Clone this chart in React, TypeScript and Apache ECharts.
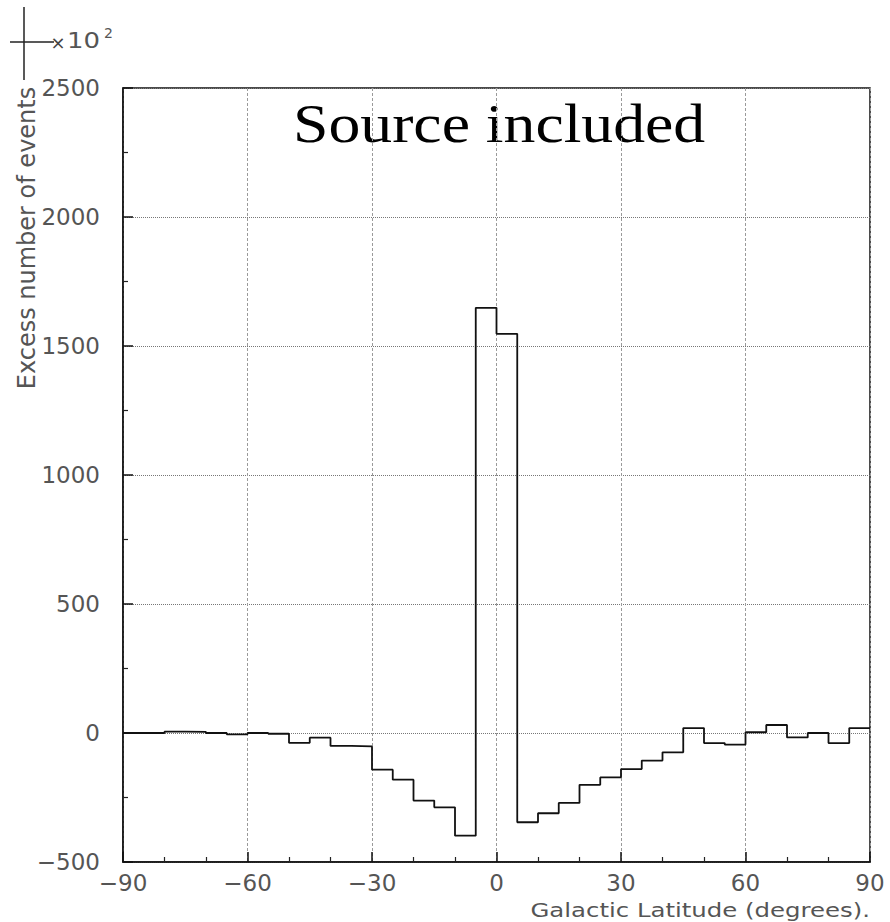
import React, { useEffect, useRef } from "react";
import * as echarts from "echarts";

// Histogram bins (left edges, degrees) and excess counts (x10^2)
const binLeft = [
  -90, -85, -80, -75, -70, -65, -60, -55, -50, -45, -40, -35,
  -30, -25, -20, -15, -10, -5, 0, 5, 10, 15, 20, 25,
  30, 35, 40, 45, 50, 55, 60, 65, 70, 75, 80, 85,
];
const binRightEnd = 90;
const excess = [
  0, 0, 5, 4, 0, -5, 0, -3, -38, -18, -50, -52,
  -142, -181, -262, -288, -398, 1648, 1547, -346, -311, -271, -201, -172,
  -140, -107, -75, 19, -39, -45, 3, 31, -17, 0, -39, 19,
];
const xTicks = [-90, -60, -30, 0, 30, 60, 90];
const yTicks = [-500, 0, 500, 1000, 1500, 2000, 2500];

const titleText = "Source included";
const xTitle = "Galactic Latitude (degrees).";
const yTitle = "Excess number of events";

const fmt = (v: number) => (v < 0 ? "\u2212" + Math.abs(v) : String(v));

export default function App() {
  const ref = useRef<HTMLDivElement>(null);
  useEffect(() => {
    if (!ref.current) return;
    const chart = echarts.init(ref.current, undefined, { renderer: "svg" });
    const stepData: [number, number][] = binLeft.map((x, i) => [x, excess[i]]);
    stepData.push([binRightEnd, excess[excess.length - 1]]);

    const labelStyle = {
      color: "#555",
      fontFamily: "DejaVu Sans",
      fontSize: 23,
    };

    chart.setOption({
      animation: false,
      backgroundColor: "#fff",
      grid: {
        left: 123,
        top: 88,
        width: 747,
        height: 774,
        show: true,
        borderColor: "#111",
        borderWidth: 1.5,
        backgroundColor: "transparent",
      },
      xAxis: {
        type: "value",
        min: xTicks[0],
        max: xTicks[xTicks.length - 1],
        interval: 30,
        axisLine: { show: true, onZero: false, lineStyle: { color: "#111", width: 1.5 } },
        axisTick: { show: true, inside: true, length: 10, lineStyle: { color: "#111", width: 1.5 } },
        minorTick: { show: true, splitNumber: 3, length: 5, lineStyle: { color: "#222", width: 1.2 } },
        axisLabel: { ...labelStyle, margin: 9, formatter: (v: number) => fmt(v) },
        splitLine: { show: true, lineStyle: { color: "#9a9a9a", width: 1, type: [3, 2] } },
      },
      yAxis: {
        type: "value",
        min: yTicks[0],
        max: yTicks[yTicks.length - 1],
        interval: 500,
        axisLine: { show: true, onZero: false, lineStyle: { color: "#111", width: 1.5 } },
        axisTick: { show: true, inside: true, length: 10, lineStyle: { color: "#111", width: 1.5 } },
        minorTick: { show: true, splitNumber: 2, length: 5, lineStyle: { color: "#222", width: 1.2 } },
        axisLabel: { ...labelStyle, margin: 23, formatter: (v: number) => fmt(v) },
        splitLine: { show: true, lineStyle: { color: "#777", width: 1, type: "dotted" } },
      },
      series: [
        {
          type: "line",
          step: "end",
          data: stepData,
          symbol: "none",
          lineStyle: { color: "#111", width: 1.8 },
          z: 5,
        },
      ],
      graphic: [
        {
          type: "text",
          x: 293,
          y: 124,
          scaleX: 1.18,
          style: {
            text: titleText,
            fontFamily: "Liberation Serif",
            fontSize: 54,
            fill: "#000",
            textAlign: "left",
            textVerticalAlign: "middle",
            align: "left",
            verticalAlign: "middle",
          },
        },
        {
          type: "text",
          x: 870,
          y: 910,
          scaleX: 1.22,
          style: {
            text: xTitle,
            fontFamily: "DejaVu Sans",
            fontSize: 20,
            fill: "#555",
            textAlign: "right",
            textVerticalAlign: "middle",
            align: "right",
            verticalAlign: "middle",
          },
        },
        {
          type: "text",
          x: 27,
          y: 238,
          rotation: Math.PI / 2,
          style: {
            text: yTitle,
            fontFamily: "DejaVu Sans",
            fontSize: 24,
            fill: "#555",
            textAlign: "center",
            textVerticalAlign: "middle",
            align: "center",
            verticalAlign: "middle",
          },
        },
        {
          type: "line",
          shape: { x1: 24, y1: 7, x2: 24, y2: 80 },
          style: { stroke: "#222", lineWidth: 1.5 },
        },
        {
          type: "line",
          shape: { x1: 10, y1: 42, x2: 54, y2: 42 },
          style: { stroke: "#222", lineWidth: 1.5 },
        },
        {
          type: "text",
          x: 58,
          y: 42,
          style: {
            text: "\u00d7",
            fontFamily: "DejaVu Sans",
            fontSize: 18,
            fill: "#444",
            textAlign: "center",
            textVerticalAlign: "middle",
            align: "center",
            verticalAlign: "middle",
          },
        },
        {
          type: "text",
          x: 67,
          y: 41,
          scaleX: 1.18,
          style: {
            text: "10",
            fontFamily: "DejaVu Sans",
            fontSize: 22,
            fill: "#555",
            textAlign: "left",
            textVerticalAlign: "middle",
            align: "left",
            verticalAlign: "middle",
          },
        },
        {
          type: "text",
          x: 104,
          y: 33,
          style: {
            text: "2",
            fontFamily: "DejaVu Sans",
            fontSize: 14,
            fill: "#555",
            textAlign: "left",
            textVerticalAlign: "middle",
            align: "left",
            verticalAlign: "middle",
          },
        },
      ],
    });
    return () => chart.dispose();
  }, []);
  return (
    <div
      ref={ref}
      style={{ position: "fixed", left: 0, top: 0, width: 890, height: 922, background: "#fff" }}
    />
  );
}
